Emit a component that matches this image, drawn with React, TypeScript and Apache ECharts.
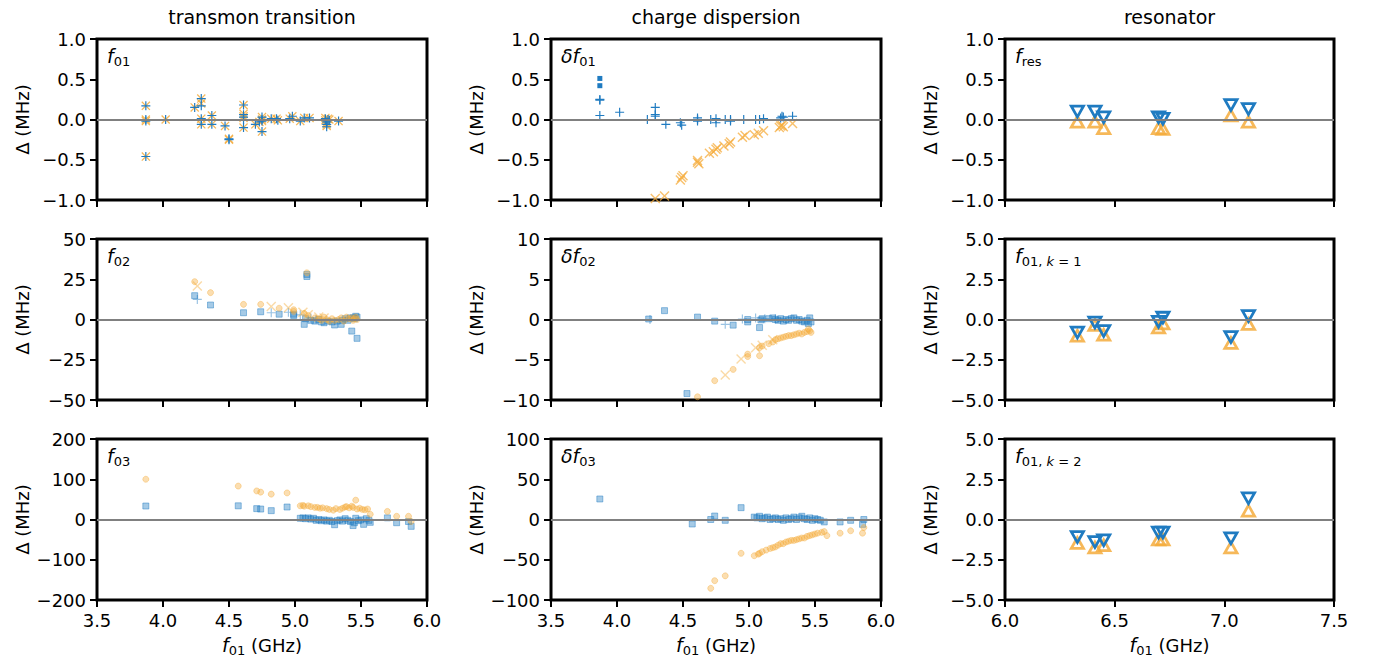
import React, { useEffect, useRef } from 'react';
import * as echarts from 'echarts';

// ---------- colours / fonts ----------
const BLUE = '#1f7bc1';
const blueA = (a: number) => `rgba(31,123,193,${a})`;
const orangeA = (a: number) => `rgba(245,172,60,${a})`;
const FONT = 'DejaVu Sans';

// ---------- tick labels / axes ----------
const colTitles = ['transmon transition', 'charge dispersion', 'resonator'];
const xRangeLeft = [3.5, 6.0];
const xRangeRight = [6.0, 7.5];
const yRanges = [
  [[-1, 1, 0.5, 1], [-1, 1, 0.5, 1], [-1, 1, 0.5, 1]],
  [[-50, 50, 25, 0], [-10, 10, 5, 0], [-5, 5, 2.5, 1]],
  [[-200, 200, 100, 0], [-100, 100, 50, 0], [-5, 5, 2.5, 1]],
];

// ---------- data: transmon transition ----------
const f01Blue = [
  [3.87, 0.17], [3.87, 0.0], [3.87, -0.02], [3.87, -0.46], [4.02, 0.0],
  [4.24, 0.15], [4.29, 0.26], [4.29, 0.17], [4.29, 0.01], [4.29, -0.06],
  [4.37, 0.05], [4.37, -0.06], [4.47, -0.08], [4.5, -0.24], [4.5, -0.25],
  [4.61, 0.18], [4.61, 0.06], [4.61, 0.03], [4.61, 0.0], [4.61, -0.1],
  [4.7, -0.06], [4.73, -0.03], [4.75, 0.03], [4.75, 0.0], [4.75, -0.02], [4.75, -0.15],
  [4.82, 0.01], [4.86, 0.01], [4.87, -0.01], [4.96, 0.01], [4.98, 0.04],
  [5.04, -0.02], [5.07, 0.02], [5.11, 0.02], [5.23, 0.01], [5.23, -0.01],
  [5.24, -0.03], [5.24, -0.06], [5.24, -0.09], [5.25, 0.0], [5.26, -0.01], [5.33, -0.02],
];
const f01Orange = [
  [3.87, 0.17], [3.87, 0.0], [3.87, -0.02], [3.87, -0.46], [4.02, 0.0],
  [4.24, 0.15], [4.29, 0.26], [4.29, 0.2], [4.29, 0.01], [4.29, -0.06],
  [4.37, 0.05], [4.37, -0.06], [4.47, -0.08], [4.5, -0.24], [4.5, -0.25],
  [4.61, 0.18], [4.61, 0.07], [4.61, 0.04], [4.61, 0.02], [4.61, -0.1],
  [4.7, -0.06], [4.73, -0.03], [4.75, 0.03], [4.75, 0.0], [4.75, -0.02], [4.75, -0.15],
  [4.82, 0.01], [4.86, 0.01], [4.87, -0.01], [4.96, 0.01], [4.98, 0.04],
  [5.04, -0.02], [5.07, 0.02], [5.11, 0.02], [5.23, 0.02], [5.23, -0.01],
  [5.24, -0.04], [5.24, -0.06], [5.24, -0.08], [5.25, 0.01], [5.26, 0.0], [5.33, -0.02],
];
const f02BlueSq = [
  [4.24, 14.8], [4.36, 9], [4.61, 4.2], [4.74, 4.8], [4.88, 3.3], [4.99, 3.3], [4.99, 2.5],
  [5.09, 26.7], [5.09, 28], [5.07, -3], [5.08, 0.5], [5.12, -0.5], [5.15, -1], [5.18, 0],
  [5.2, -1.5], [5.22, -2], [5.25, -1], [5.28, -1.5], [5.3, -3.4], [5.32, -1], [5.35, -3],
  [5.36, -0.5], [5.38, 0.5], [5.4, -0.5], [5.42, 1], [5.43, -7.2], [5.44, 1], [5.45, 0.5],
  [5.46, 2], [5.47, -11.7], [5.47, 1.5],
];
const f02BluePlus = [[4.26, 12.5], [4.82, 4.2], [4.95, 4.5], [5.04, 2.9], [5.12, 1], [5.16, 0]];
const f02OrangeCirc = [
  [4.24, 23.5], [4.36, 16.7], [4.61, 9.4], [4.74, 9.4], [4.88, 7], [4.99, 6.1], [4.99, 5],
  [5.09, 29], [5.07, 3.8], [5.1, 2.5], [5.15, 1], [5.18, 0.5], [5.2, -0.5], [5.22, 1.5],
  [5.24, 0], [5.26, -1], [5.28, 0.5], [5.3, -0.5], [5.33, 0], [5.35, 1], [5.37, -1],
  [5.39, 1.5], [5.41, 0.5], [5.43, 1], [5.44, -0.5], [5.45, 0.5], [5.46, 1.5], [5.47, 0],
];
const f02OrangeX = [[4.26, 20.8], [4.82, 8], [4.95, 7.3], [5.06, 4.5], [5.1, 3], [5.18, 1.5], [5.22, 1]];
const f03BlueSq = [
  [3.87, 33.5], [4.57, 34], [4.71, 27], [4.74, 26], [4.82, 22], [4.94, 31], [5.04, 3],
  [5.06, 4], [5.08, 2], [5.1, 4], [5.12, 1], [5.14, 3], [5.16, -2], [5.18, 0], [5.2, -3],
  [5.22, -1], [5.24, -4], [5.26, -2], [5.28, -5], [5.3, -13], [5.32, -3], [5.34, -1],
  [5.36, -4], [5.38, 2], [5.4, -2], [5.42, -5], [5.44, -15], [5.45, -8], [5.46, 3],
  [5.48, -3], [5.5, -1], [5.52, -12], [5.54, 2], [5.56, -2], [5.57, -7], [5.7, 4],
  [5.77, -8], [5.86, -5], [5.88, -17],
];
const f03OrangeCirc = [
  [3.87, 100], [4.57, 83], [4.71, 71], [4.74, 68], [4.82, 63], [4.94, 66], [5.04, 34],
  [5.06, 35], [5.07, 33], [5.1, 34], [5.12, 32], [5.15, 30], [5.17, 30], [5.19, 28],
  [5.21, 29], [5.24, 27], [5.26, 25], [5.29, 23], [5.31, 27], [5.34, 25], [5.36, 28],
  [5.38, 31], [5.39, 32], [5.41, 29], [5.43, 33], [5.44, 30], [5.46, 48], [5.47, 26],
  [5.49, 28], [5.51, 25], [5.53, 24], [5.55, 26], [5.57, 13], [5.7, 20], [5.77, 8],
  [5.86, 8], [5.88, -5],
];

// ---------- data: charge dispersion ----------
const df01BluePlus = [
  [3.87, 0.24], [3.87, 0.25], [3.87, 0.05], [4.02, 0.09], [4.23, 0.0], [4.29, 0.15],
  [4.29, 0.06], [4.29, 0.04], [4.37, -0.06], [4.48, -0.04], [4.49, -0.07], [4.61, 0.0],
  [4.61, -0.02], [4.61, 0.02], [4.71, 0.0], [4.75, 0.01], [4.75, -0.04], [4.82, 0.0],
  [4.86, 0.0], [4.86, -0.02], [4.96, 0.0], [5.05, 0.0], [5.08, 0.0], [5.11, 0.01],
  [5.24, 0.02], [5.25, 0.04], [5.26, 0.03], [5.33, 0.04],
];
const df01BlueSq = [[3.87, 0.51], [3.87, 0.42]];
const df01OrangeX = [
  [4.29, -0.98], [4.36, -0.95], [4.48, -0.75], [4.49, -0.72], [4.5, -0.7], [4.61, -0.51],
  [4.61, -0.53], [4.62, -0.55], [4.7, -0.42], [4.73, -0.4], [4.75, -0.37], [4.76, -0.35],
  [4.81, -0.33], [4.85, -0.3], [4.86, -0.28], [4.95, -0.22], [4.97, -0.2], [5.04, -0.19],
  [5.07, -0.17], [5.11, -0.14], [5.23, -0.1], [5.24, -0.08], [5.25, -0.07], [5.26, -0.09],
  [5.33, -0.05],
];
const df02BlueSq = [
  [4.24, 0.06], [4.36, 1.1], [4.61, 0.3], [4.74, -0.2], [4.88, -0.7], [4.99, 0], [4.99, -0.3],
  [5.08, -1.0], [5.09, -0.05], [5.1, 0.1], [5.15, 0.1], [5.18, 0.2], [5.2, 0], [5.22, -0.1],
  [5.24, 0.1], [5.26, -0.2], [5.28, 0], [5.3, -0.1], [5.32, 0.1], [5.34, 0.2], [5.36, -0.1],
  [5.38, 0], [5.4, -0.2], [5.42, -0.3], [5.44, -0.1], [5.45, -0.5], [5.46, 0.2], [5.47, -0.3],
  [4.53, -9.2],
];
const df02BluePlus = [[4.25, 0], [4.82, -0.6], [4.95, 0.05], [5.05, 0.2], [5.12, 0.1], [5.2, 0.1]];
const df02OrangeCirc = [
  [4.61, -9.6], [4.74, -7.6], [4.88, -6.2], [4.99, -4.3], [4.99, -4.6], [5.08, -4.5],
  [5.08, -3.5], [5.1, -3.3], [5.15, -3], [5.18, -2.8], [5.2, -2.5], [5.22, -2.4], [5.24, -2.3],
  [5.26, -2.2], [5.28, -2.1], [5.3, -2.0], [5.32, -2.0], [5.34, -1.9], [5.36, -1.8],
  [5.38, -1.7], [5.4, -1.8], [5.42, -1.6], [5.44, -1.5], [5.45, -1.2], [5.46, -1.4], [5.47, -1.6],
];
const df02OrangeX = [[4.82, -6.9], [4.94, -4.9], [5.05, -3.5], [5.1, -3.2], [5.18, -2.5]];
const df03BlueSq = [
  [3.87, 25.5], [4.57, -5.6], [4.71, 0], [4.74, 4.3], [4.82, -1], [4.94, 14.7], [5.04, 3],
  [5.06, 2], [5.08, 4], [5.1, 1], [5.12, 2], [5.14, 3], [5.16, 0], [5.18, 1], [5.2, 2],
  [5.22, 0], [5.24, 1], [5.26, -1], [5.28, 2], [5.3, 0], [5.32, 1], [5.34, 3], [5.36, 0],
  [5.38, 2], [5.4, 4], [5.42, 1], [5.44, 0], [5.46, 2], [5.48, -1], [5.5, 1], [5.52, 0],
  [5.54, -1], [5.57, -3], [5.69, -3], [5.77, -1], [5.86, -6], [5.87, 0],
];
const df03OrangeCirc = [
  [4.71, -85.5], [4.74, -76], [4.82, -70], [4.94, -42], [5.04, -45], [5.07, -43], [5.08, -42],
  [5.1, -40], [5.13, -38], [5.16, -36], [5.18, -35], [5.2, -34], [5.22, -32], [5.24, -30],
  [5.26, -30], [5.28, -28], [5.3, -27], [5.32, -26], [5.34, -26], [5.36, -25], [5.38, -24],
  [5.4, -23], [5.42, -23], [5.44, -21], [5.46, -20], [5.48, -19], [5.5, -18], [5.52, -17],
  [5.55, -16], [5.57, -15], [5.59, -20], [5.69, -17], [5.77, -14], [5.86, -17], [5.87, -10],
];

// ---------- data: resonator ----------
const resX = [6.33, 6.41, 6.45, 6.7, 6.72, 7.03, 7.11];
const fresBlue = [0.09, 0.09, 0.02, 0.02, 0.0, 0.17, 0.12];
const fresOrange = [-0.02, -0.02, -0.1, -0.1, -0.11, 0.06, -0.02];
const k1Blue = [-0.86, -0.24, -0.76, -0.18, 0.07, -1.13, 0.17];
const k1Orange = [-0.96, -0.3, -0.9, -0.45, -0.2, -1.42, -0.24];
const k2Blue = [-1.13, -1.44, -1.34, -0.86, -0.86, -1.21, 1.27];
const k2Orange = [-1.42, -1.69, -1.55, -1.2, -1.2, -1.69, 0.59];

// ---------- layout ----------
const COL_LEFT = [97, 551, 1005];
const COL_W = [330, 330, 329];
const ROW_TOP = [39, 239, 439];
const ROW_H = 161;

const PLUS = 'path://M-10,-1.3L-1.3,-1.3L-1.3,-10L1.3,-10L1.3,-1.3L10,-1.3L10,1.3L1.3,1.3L1.3,10L-1.3,10L-1.3,1.3L-10,1.3Z';
const XMARK = 'path://M-10,-8L-8,-10L0,-2L8,-10L10,-8L2,0L10,8L8,10L0,2L-8,10L-10,8L-2,0Z';
const TRI_UP = 'path://M50,0L100,87L0,87ZM50,32L28,71L72,71Z';
const TRI_DOWN = 'path://M0,0L100,0L50,87ZM28,16L50,55L72,16Z';

const fmt = (v: number, d: number) => {
  const s = Math.abs(v).toFixed(d);
  return v < -1e-9 ? '\u2212' + s : s;
};

const subRich = {
  i: { fontFamily: FONT, fontStyle: 'italic', fontSize: 19, lineHeight: 22, color: '#000', fill: '#000' },
  s: { fontFamily: FONT, fontSize: 13, lineHeight: 14, padding: [11, 0, 0, 0], color: '#000', fill: '#000' },
  si: { fontFamily: FONT, fontStyle: 'italic', fontSize: 13, lineHeight: 14, padding: [11, 0, 0, 0], color: '#000', fill: '#000' },
  n: { fontFamily: FONT, fontSize: 18, lineHeight: 22, color: '#000', fill: '#000' },
};

const panelLabels = [
  ['{i|f}{s|01}', '{i|δf}{s|01}', '{i|f}{s|res}'],
  ['{i|f}{s|02}', '{i|δf}{s|02}', '{i|f}{s|01, }{si|k}{s| = 1}'],
  ['{i|f}{s|03}', '{i|δf}{s|03}', '{i|f}{s|01, }{si|k}{s| = 2}'],
];

function sc(idx: number, data: number[][], symbol: string, size: number | number[], fill: string, stroke?: string, bw?: number, z = 3) {
  return {
    type: 'scatter',
    xAxisIndex: idx,
    yAxisIndex: idx,
    data,
    symbol,
    symbolSize: size,
    silent: true,
    z,
    emphasis: { disabled: true },
    itemStyle: { color: fill, borderColor: stroke ?? 'rgba(0,0,0,0)', borderWidth: bw ?? 0, opacity: 1 },
  };
}

function zeroLine(idx: number) {
  return {
    type: 'scatter',
    xAxisIndex: idx,
    yAxisIndex: idx,
    data: [],
    silent: true,
    z: 2,
    markLine: {
      silent: true,
      symbol: 'none',
      label: { show: false },
      animation: false,
      lineStyle: { color: '#808080', width: 2, type: 'solid' },
      emphasis: { disabled: true },
      data: [{ yAxis: 0 }],
    },
  };
}

function buildOption() {
  const grids: any[] = [];
  const xAxes: any[] = [];
  const yAxes: any[] = [];
  for (let r = 0; r < 3; r++) {
    for (let c = 0; c < 3; c++) {
      const idx = r * 3 + c;
      grids.push({
        left: COL_LEFT[c], top: ROW_TOP[r], width: COL_W[c], height: ROW_H,
        show: true, borderColor: '#000', borderWidth: 3, backgroundColor: 'rgba(0,0,0,0)',
      });
      const xr = c === 2 ? xRangeRight : xRangeLeft;
      xAxes.push({
        gridIndex: idx, type: 'value', min: xr[0], max: xr[1], interval: 0.5, position: 'bottom',
        axisLine: { show: false, onZero: false },
        axisTick: { show: true, inside: false, length: 7, lineStyle: { color: '#000', width: 2 } },
        splitLine: { show: false },
        axisLabel: {
          show: r === 2, margin: 11, color: '#000', fontSize: 18, fontFamily: FONT,
          showMinLabel: true, showMaxLabel: true,
          formatter: (v: number) => fmt(v, 1),
        },
        name: r === 2 ? '{i|f}{s|01}{n| (GHz)}' : '',
        nameLocation: 'middle',
        nameGap: 34,
        nameTextStyle: { fontFamily: FONT, fontSize: 18, color: '#000', rich: subRich },
      });
      const yr = yRanges[r][c];
      yAxes.push({
        gridIndex: idx, type: 'value', min: yr[0], max: yr[1], interval: yr[2], position: 'left',
        axisLine: { show: false, onZero: false },
        axisTick: { show: true, inside: false, length: 7, lineStyle: { color: '#000', width: 2 } },
        splitLine: { show: false },
        axisLabel: {
          show: true, margin: 11, color: '#000', fontSize: 18, fontFamily: FONT,
          showMinLabel: true, showMaxLabel: true,
          formatter: (v: number) => fmt(v, yr[3]),
        },
        name: 'Δ (MHz)',
        nameLocation: 'middle',
        nameGap: 66,
        nameTextStyle: { fontFamily: FONT, fontSize: 18, color: '#000' },
      });
    }
  }

  const triData = (vals: number[]) => resX.map((x, i) => [x, vals[i]]);
  const TRI_SIZE = [17, 15];

  const series: any[] = [];
  for (let i = 0; i < 9; i++) series.push(zeroLine(i));
  // row 0
  series.push(sc(0, f01Orange, XMARK, 9, orangeA(0.85)));
  series.push(sc(0, f01Blue, PLUS, 9, BLUE));
  series.push(sc(1, df01OrangeX, XMARK, 10, orangeA(0.75)));
  series.push(sc(1, df01BluePlus, PLUS, 9, BLUE));
  series.push(sc(1, df01BlueSq, 'rect', 5, BLUE));
  series.push(sc(2, triData(fresOrange), TRI_UP, TRI_SIZE, orangeA(0.85)));
  series.push(sc(2, triData(fresBlue), TRI_DOWN, TRI_SIZE, BLUE));
  // row 1
  series.push(sc(3, f02BlueSq, 'rect', 6, blueA(0.4), blueA(0.45), 1));
  series.push(sc(3, f02BluePlus, PLUS, 9, blueA(0.45)));
  series.push(sc(3, f02OrangeCirc, 'circle', 6, orangeA(0.4), orangeA(0.4), 1));
  series.push(sc(3, f02OrangeX, XMARK, 10, orangeA(0.45)));
  series.push(sc(4, df02BlueSq, 'rect', 6, blueA(0.4), blueA(0.45), 1));
  series.push(sc(4, df02BluePlus, PLUS, 9, blueA(0.45)));
  series.push(sc(4, df02OrangeCirc, 'circle', 6, orangeA(0.4), orangeA(0.4), 1));
  series.push(sc(4, df02OrangeX, XMARK, 10, orangeA(0.45)));
  series.push(sc(5, triData(k1Orange), TRI_UP, TRI_SIZE, orangeA(0.85)));
  series.push(sc(5, triData(k1Blue), TRI_DOWN, TRI_SIZE, BLUE));
  // row 2
  series.push(sc(6, f03BlueSq, 'rect', 6, blueA(0.4), blueA(0.45), 1));
  series.push(sc(6, f03OrangeCirc, 'circle', 6, orangeA(0.4), orangeA(0.4), 1));
  series.push(sc(7, df03BlueSq, 'rect', 6, blueA(0.4), blueA(0.45), 1));
  series.push(sc(7, df03OrangeCirc, 'circle', 6, orangeA(0.4), orangeA(0.4), 1));
  series.push(sc(8, triData(k2Orange), TRI_UP, TRI_SIZE, orangeA(0.85)));
  series.push(sc(8, triData(k2Blue), TRI_DOWN, TRI_SIZE, BLUE));

  const graphic: any[] = [];
  for (let c = 0; c < 3; c++) {
    graphic.push({
      type: 'text', x: COL_LEFT[c] + COL_W[c] / 2, y: 17, silent: true,
      style: { text: colTitles[c], fill: '#000', fontFamily: FONT, fontSize: 19, align: 'center', verticalAlign: 'middle' },
    });
  }
  for (let r = 0; r < 3; r++) {
    for (let c = 0; c < 3; c++) {
      graphic.push({
        type: 'text', x: COL_LEFT[c] + 10, y: ROW_TOP[r] + 6, silent: true,
        style: { text: panelLabels[r][c], rich: subRich, fill: '#000', fontFamily: FONT, fontSize: 19, align: 'left', verticalAlign: 'top' },
      });
    }
  }

  return {
    animation: false,
    backgroundColor: '#fff',
    textStyle: { fontFamily: FONT },
    grid: grids,
    xAxis: xAxes,
    yAxis: yAxes,
    series,
    graphic,
  };
}

export default function App() {
  const ref = useRef<HTMLDivElement>(null);
  useEffect(() => {
    document.body.style.margin = '0';
    const chart = echarts.init(ref.current!, undefined, { renderer: 'svg' });
    chart.setOption(buildOption() as any);
    return () => chart.dispose();
  }, []);
  return <div ref={ref} style={{ width: 1379, height: 663 }} />;
}
